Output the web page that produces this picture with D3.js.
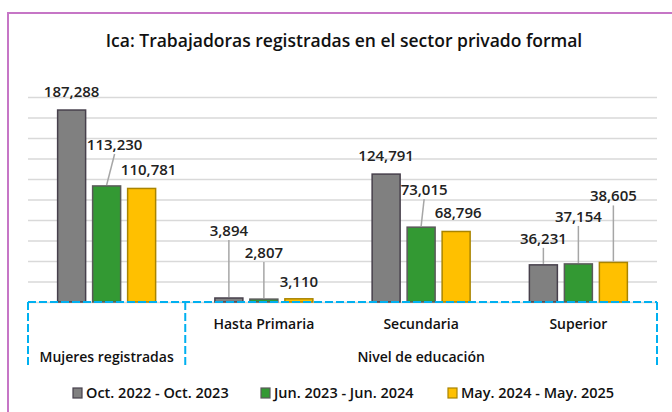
<!DOCTYPE html>
<html>
<head>
<meta charset="utf-8">
<script src="https://cdn.jsdelivr.net/npm/d3@7"></script>
<style>
  body { margin: 0; background: #fff; }
  text { font-family: "Open Sans", Lato, sans-serif; }
</style>
</head>
<body>
<div id="chart"></div>
<script>
var width = 672;
var height = 412;

// data
var categories = ["Mujeres registradas", "Hasta Primaria", "Secundaria", "Superior"];
var series = ["Oct. 2022 - Oct. 2023", "Jun. 2023 - Jun. 2024", "May. 2024 - May. 2025"];
var octValues = [187288, 3894, 124791, 36231];
var junValues = [113230, 2807, 73015, 37154];
var mayValues = [110781, 3110, 68796, 38605];
var yTicks = [0, 20000, 40000, 60000, 80000, 100000, 120000, 140000, 160000, 180000, 200000];

var colors = ["#808080", "#339933", "#ffc000"];
var strokes = ["#47404c", "#5a5a5a", "#a98400"];

// label placement (pixels above bar top, x nudge, leader line yes/no)
var labelLift = [[18, 67, 18, 26], [41, 46, 37, 47], [18, 17, 18, 66]];
var labelNudge = [[0, 0, 0, 0], [8, 0, 3, 0], [7, 0, 2, 0]];
var hasLeader = [[false, true, false, true], [true, true, true, true], [false, false, false, true]];

var allValues = [octValues, junValues, mayValues];

var svg = d3.select("#chart").append("svg")
  .attr("width", width)
  .attr("height", height);

svg.append("rect")
  .attr("width", width).attr("height", height)
  .attr("fill", "#fff");

// purple frame
svg.append("rect")
  .attr("x", 8).attr("y", 13)
  .attr("width", 720).attr("height", 500)
  .attr("fill", "none")
  .attr("stroke", "#c676c6")
  .attr("stroke-width", 2);

var xScale = d3.scaleBand().domain(categories).range([28, 657]);
var xInner = d3.scaleBand().domain(series)
  .range([xScale.bandwidth() / 2 - 52.5, xScale.bandwidth() / 2 + 52.5])
  .paddingInner(0.2).paddingOuter(0.1);
var yScale = d3.scaleLinear().domain([0, 200000]).range([302, 97]);

// gridlines
svg.append("g")
  .attr("transform", "translate(28,0)")
  .call(d3.axisLeft(yScale).tickValues(yTicks).tickSize(-(657 - 28)).tickFormat(""))
  .call(function (g) { g.select(".domain").remove(); })
  .selectAll("line")
    .attr("stroke", "#d9d9d9")
    .attr("stroke-width", 1.5);

svg.append("text")
  .attr("x", 344).attr("y", 47)
  .attr("text-anchor", "middle")
  .attr("font-size", 17.5)
  .attr("font-weight", 600)
  .attr("fill", "#111")
  .text("Ica: Trabajadoras registradas en el sector privado formal");

// flatten into bar records
var bars = [];
series.forEach(function (s, si) {
  categories.forEach(function (c, ci) {
    bars.push({ s: s, si: si, c: c, ci: ci, v: allValues[si][ci] });
  });
});

function barCenter(d) {
  return xScale(d.c) + xInner(d.s) + xInner.bandwidth() / 2;
}

svg.append("g").selectAll("rect")
  .data(bars)
  .enter()
  .append("rect")
  .attr("x", function (d) { return xScale(d.c) + xInner(d.s); })
  .attr("y", function (d) { return yScale(d.v); })
  .attr("width", xInner.bandwidth())
  .attr("height", function (d) { return yScale(0) - yScale(d.v); })
  .attr("fill", function (d) { return colors[d.si]; })
  .attr("stroke", function (d) { return strokes[d.si]; })
  .attr("stroke-width", 1.5);

// leader lines
svg.append("g").selectAll("line")
  .data(bars.filter(function (d) { return hasLeader[d.si][d.ci]; }))
  .enter()
  .append("line")
  .attr("x1", barCenter)
  .attr("y1", function (d) { return yScale(d.v) - 1; })
  .attr("x2", function (d) { return barCenter(d) + labelNudge[d.si][d.ci]; })
  .attr("y2", function (d) { return yScale(d.v) - labelLift[d.si][d.ci] + 9; })
  .attr("stroke", "#a6a6a6")
  .attr("stroke-width", 1.5);

svg.append("g").selectAll("text")
  .data(bars)
  .enter()
  .append("text")
  .attr("x", function (d) { return barCenter(d) + labelNudge[d.si][d.ci]; })
  .attr("y", function (d) { return yScale(d.v) - labelLift[d.si][d.ci] + 5; })
  .attr("text-anchor", "middle")
  .attr("font-size", 15)
  .attr("font-weight", 600)
  .attr("fill", "#222")
  .text(function (d) { return d3.format(",")(d.v); });

// dashed category box
var boxColor = "#00b0f0";
var box = svg.append("g")
  .attr("fill", "none")
  .attr("stroke", boxColor)
  .attr("stroke-width", 2)
  .attr("stroke-dasharray", "8,3");
box.append("line").attr("x1", 28).attr("x2", 657).attr("y1", 302).attr("y2", 302);
[28, xScale(categories[1]), 657].forEach(function (xx) {
  box.append("line").attr("x1", xx).attr("x2", xx).attr("y1", 302).attr("y2", 366);
});

svg.append("g").selectAll("text")
  .data(categories.slice(1))
  .enter()
  .append("text")
  .attr("x", function (d) { return xScale(d) + xScale.bandwidth() / 2; })
  .attr("y", 329)
  .attr("text-anchor", "middle")
  .attr("font-size", 14)
  .attr("font-weight", 600)
  .attr("fill", "#111")
  .text(function (d) { return d; });

svg.append("text")
  .attr("x", xScale(categories[0]) + xScale.bandwidth() / 2)
  .attr("y", 362)
  .attr("text-anchor", "middle")
  .attr("font-size", 14)
  .attr("font-weight", 600)
  .attr("fill", "#111")
  .text(categories[0]);

svg.append("text")
  .attr("x", (xScale(categories[1]) + 657) / 2)
  .attr("y", 362)
  .attr("text-anchor", "middle")
  .attr("font-size", 14)
  .attr("font-weight", 600)
  .attr("fill", "#111")
  .text("Nivel de educación");

// legend
var legendX = [73, 261, 448];
var legend = svg.append("g").selectAll("g")
  .data(series)
  .enter()
  .append("g")
  .attr("transform", function (d, i) { return "translate(" + legendX[i] + ",388)"; });
legend.append("rect")
  .attr("width", 9).attr("height", 10)
  .attr("fill", function (d, i) { return colors[i]; })
  .attr("stroke", function (d, i) { return strokes[i]; })
  .attr("stroke-width", 1.2);
legend.append("text")
  .attr("x", 13).attr("y", 10)
  .attr("font-size", 14.5)
  .attr("font-weight", 600)
  .attr("fill", "#111")
  .text(function (d) { return d; });
</script>
</body>
</html>
